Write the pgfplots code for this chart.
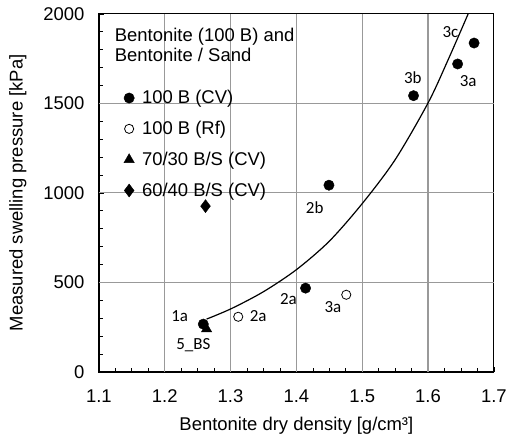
\documentclass[border=0pt]{standalone}
\usepackage{fontspec}
\setmainfont{Liberation Sans}
\newfontfamily\calibri{Carlito}
\usepackage{pgfplots}
\pgfplotsset{compat=1.18}

\begin{document}
\begin{tikzpicture}
\begin{axis}[
  scale only axis, width=396pt, height=359pt,
  xmin=1.1, xmax=1.7, ymin=0, ymax=2000,
  xtick={1.1,1.2,1.3,1.4,1.5,1.6,1.7}, ytick={0,500,1000,1500,2000},
  minor x tick num=3, minor y tick num=4,
  xtick pos=bottom, ytick pos=left, tick align=inside,
  major tick length=5pt, minor tick length=4pt,
  axis line style={line width=1.3pt},
  tick style={black, line width=0.6pt},
  font=\fontsize{18.5}{22}\selectfont,
  tick label style={font=\fontsize{18.5}{22}\selectfont},
  /pgf/number format/assume math mode=true,
  xticklabel style={yshift=-14pt, /pgf/number format/.cd, fixed, fixed zerofill, precision=1},
  yticklabel style={xshift=-11pt, /pgf/number format/.cd, fixed, 1000 sep={}},
  scaled ticks=false,
  xlabel={Bentonite dry density [g/cm³]},
  ylabel={Measured swelling pressure [kPa]},
  xlabel shift=8pt, ylabel shift=10pt,
  legend style={at={(axis cs:1.1375,1578)}, anchor=north west, draw=none, fill=none,
    row sep=14pt, font=\fontsize{18.5}{22}\selectfont, inner sep=0pt,
    nodes={inner sep=1pt}},
  legend cell align=left,
  legend image code/.code={\draw[mark repeat=2, mark phase=2] plot coordinates {(0pt,0pt)(5pt,0pt)(10pt,0pt)}; \path (0pt,-3pt) (16.5pt,3pt);},
]
% grid lines
\pgfplotsinvokeforeach{1.2,1.3,1.4,1.5,1.6}{
  \draw[black!40, line width=1.2pt] (axis cs:#1,0) -- (axis cs:#1,2000);}
\pgfplotsinvokeforeach{500,1000,1500}{
  \draw[black!40, line width=1.2pt] (axis cs:1.1,#1) -- (axis cs:1.7,#1);}

% fitted curve
\addplot[smooth, black, line width=1.2pt, forget plot] coordinates {
  (1.2636,295) (1.3015,354) (1.35,448) (1.40,571) (1.45,730)
  (1.50,940) (1.55,1185) (1.60,1502) (1.63,1739) (1.661,2000)};

\addplot[only marks, mark=*, mark size=5.2pt, black] coordinates {
  (1.2586,267) (1.414,468) (1.4495,1043) (1.578,1543) (1.645,1720) (1.670,1837)};
\addlegendentry{100 B (CV)}
\addplot[only marks, mark=o, mark size=4.6pt, black, line width=0.8pt, mark options={fill=white}] coordinates {
  (1.3117,308) (1.4758,431)};
\addlegendentry{100 B (Rf)}
\addplot[only marks, mark=triangle*, mark size=6pt, black] coordinates {(1.2636,240)};
\addlegendentry{70/30 B/S (CV)}
\addplot[only marks, mark=diamond*, mark size=6.5pt, black] coordinates {(1.262,926)};
\addlegendentry{60/40 B/S (CV)}

\node[anchor=north west, align=left, inner sep=0pt, font=\fontsize{18.5}{21}\selectfont]
  at (rel axis cs:0.04,0.962) {Bentonite (100 B) and\\Bentonite / Sand};

\begin{scope}[every node/.style={font=\calibri\fontsize{17}{20}\selectfont}]
\node at (axis cs:1.2227,314) {1a};
\node at (axis cs:1.2435,147) {5\_BS};
\node at (axis cs:1.342,310) {2a};
\node at (axis cs:1.388,407) {2a};
\node at (axis cs:1.4556,360) {3a};
\node at (axis cs:1.4278,918) {2b};
\node at (axis cs:1.577,1645) {3b};
\node at (axis cs:1.661,1623) {3a};
\node at (axis cs:1.634,1898) {3c};
\end{scope}
\end{axis}
% a little white room at the left and top, as in the reference
\path ([xshift=-6pt,yshift=4pt]current bounding box.north west);
\end{tikzpicture}
\end{document}
